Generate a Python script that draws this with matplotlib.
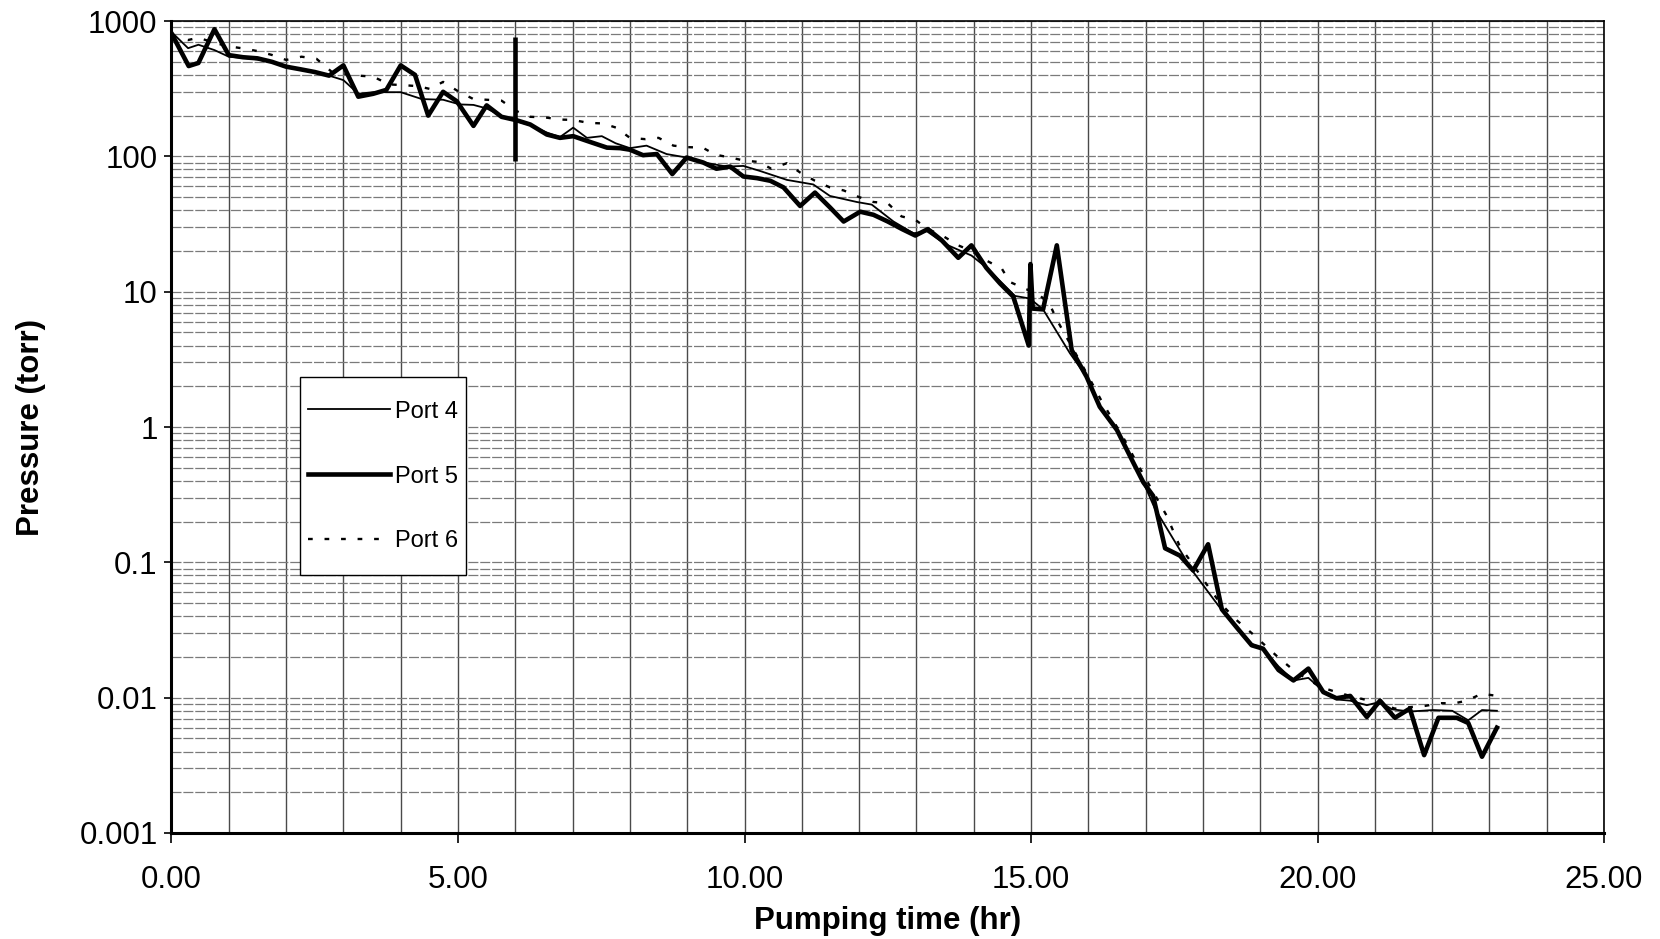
import numpy as np
import matplotlib

matplotlib.use("Agg")

import matplotlib.pyplot as plt
from matplotlib.ticker import FixedLocator, NullFormatter

plt.rcParams["font.family"] = ["Liberation Sans", "DejaVu Sans"]

# Port 4 (thin solid)
t_port4 = [0.0, 0.29, 0.47, 0.75, 1.0, 1.25, 1.5, 1.75, 2.0, 2.25, 2.5, 2.75, 3.0, 3.26, 3.52, 4.0,
           4.37, 4.74, 5.03, 5.27, 5.5, 5.79, 6.02, 6.26, 6.55, 6.78, 7.01, 7.25, 7.51, 7.75, 8.0,
           8.29, 8.64, 8.99, 9.3, 9.69, 9.98, 10.27, 10.74, 11.2, 11.49, 11.96, 12.22, 12.6, 12.95,
           13.18, 13.5, 13.96, 14.23, 14.72, 14.98, 15.21, 15.68, 15.97, 16.2, 16.5, 16.79, 16.96,
           17.16, 17.83, 18.3, 18.59, 18.85, 19.05, 19.32, 19.58, 19.84, 20.1, 20.33, 20.57, 20.86,
           21.09, 21.3, 21.61, 22.02, 22.35, 22.63, 22.87, 23.13]
p_port4 = [830, 630, 668, 610, 545, 535, 520, 495, 460, 440, 420, 395, 366, 290, 298, 298,
           265, 262, 242, 240, 226, 196, 182, 170, 150, 139, 163, 137, 141, 125, 115,
           120, 104, 98, 90, 84, 85, 78, 67, 62, 51, 46, 44, 33, 27,
           28, 22.5, 18.5, 15, 9.3, 8.9, 7.4, 3.5, 2.35, 1.41, 0.95, 0.54, 0.39,
           0.25, 0.085, 0.046, 0.033, 0.025, 0.023, 0.017, 0.0134, 0.014, 0.0112, 0.0097, 0.0095, 0.0088,
           0.0093, 0.0082, 0.0079, 0.0081, 0.008, 0.0068, 0.0081, 0.008]

# Port 5 (thick solid)
t_port5 = [0.0, 0.3, 0.47, 0.75, 1.0, 1.25, 1.5, 1.75, 2.0, 2.25, 2.5, 2.75, 3.0, 3.26, 3.52, 3.75,
           4.0, 4.25, 4.48, 4.74, 4.98, 5.27, 5.5, 5.76, 6.02, 6.26, 6.55, 6.78, 7.01, 7.3, 7.6,
           7.83, 8.0, 8.23, 8.47, 8.74, 8.99, 9.28, 9.51, 9.75, 9.98, 10.22, 10.45, 10.68, 10.97,
           11.23, 11.49, 11.73, 12.02, 12.25, 12.5, 12.75, 12.98, 13.2, 13.44, 13.73, 13.96, 14.22,
           14.46, 14.69, 14.96, 14.99, 15.03, 15.21, 15.45, 15.71, 15.97, 16.2, 16.5, 16.79, 16.96,
           17.13, 17.34, 17.6, 17.83, 18.09, 18.33, 18.59, 18.85, 19.05, 19.32, 19.58, 19.84, 20.1,
           20.33, 20.57, 20.86, 21.09, 21.35, 21.61, 21.86, 22.11, 22.43, 22.63, 22.87, 23.13]
p_port5 = [811, 465, 490, 870, 560, 540, 530, 500, 460, 440, 420, 395, 470, 276, 290, 310,
           470, 400, 200, 300, 255, 168, 238, 196, 185, 172, 145, 137, 141, 128, 116,
           115, 112, 102, 104, 74, 98, 90, 81, 84, 71, 69, 66, 59, 43,
           54, 42, 33, 39, 37, 33, 29, 26, 29, 24, 17.8, 22, 15,
           11.5, 9.2, 4.0, 16.0, 7.5, 7.4, 22, 3.7, 2.35, 1.41, 0.95, 0.54, 0.39,
           0.31, 0.127, 0.112, 0.087, 0.136, 0.045, 0.033, 0.0244, 0.023, 0.016, 0.0134, 0.0164, 0.011,
           0.0099, 0.0103, 0.0072, 0.0095, 0.0071, 0.0083, 0.00376, 0.0071, 0.0071, 0.0065, 0.00366, 0.006]

# Port 6 (dotted)
t_port6 = [0.0, 0.29, 0.47, 0.75, 1.0, 1.22, 1.5, 1.75, 2.0, 2.27, 2.53, 2.8, 3.0, 3.26, 3.52, 3.8,
           4.05, 4.3, 4.51, 4.74, 5.0, 5.27, 5.5, 5.76, 6.02, 6.26, 6.52, 6.78, 7.0, 7.27, 7.53,
           7.76, 8.0, 8.27, 8.5, 8.76, 9.0, 9.27, 9.49, 9.75, 10.0, 10.24, 10.47, 10.74, 10.97,
           11.23, 11.49, 11.73, 12.0, 12.25, 12.5, 12.74, 12.98, 13.2, 13.45, 13.73, 13.96, 14.22,
           14.49, 14.63, 14.9, 15.13, 15.33, 15.45, 15.7, 15.97, 16.23, 16.47, 16.6, 16.85, 17.1,
           17.37, 17.6, 17.8, 18.0, 18.3, 18.6, 18.85, 19.1, 19.34, 19.58, 19.84, 20.1, 20.33,
           20.6, 20.86, 21.1, 21.35, 21.6, 21.88, 22.14, 22.4, 22.6, 22.87, 23.13]
p_port6 = [760, 724, 753, 690, 650, 630, 600, 562, 516, 545, 526, 420, 408, 395, 388, 340,
           336, 330, 315, 355, 303, 265, 262, 258, 216, 196, 194, 187, 186, 177, 175,
           163, 137, 134, 137, 120, 117, 116, 103, 98, 93, 91, 81, 89, 76,
           66, 59, 56, 50, 46, 45, 36, 34, 29, 26, 22, 20, 17,
           14.8, 11.8, 10.5, 9.6, 8.0, 6.2, 4.0, 2.5, 1.56, 1.05, 0.85, 0.54, 0.35,
           0.22, 0.13, 0.1, 0.075, 0.05, 0.037, 0.03, 0.024, 0.0194, 0.016, 0.0135, 0.0118, 0.011,
           0.0102, 0.0096, 0.009, 0.0083, 0.0085, 0.0087, 0.0091, 0.0091, 0.0095, 0.0107, 0.0103]

# thick vertical marker on Port 5 at about 6 hr
bar_t = [6.0]
bar_low = [93]
bar_high = [764]

x_major = [0, 5, 10, 15, 20, 25]
y_major = [0.001, 0.01, 0.1, 1, 10, 100, 1000]
y_labels = ["0.001", "0.01", "0.1", "1", "10", "100", "1000"]

fig = plt.figure(figsize=(16.6, 9.39), dpi=100)
ax = fig.add_axes([0.1033, 0.1129, 0.863, 0.8647])

ax.set_yscale("log")
ax.set_xlim(0, 25)
ax.set_ylim(0.001, 1000)

# grid: every hour vertically, every minor log step horizontally
y_minor = [m * 10.0 ** e for e in range(-3, 3) for m in range(2, 10)]
ax.yaxis.set_major_locator(FixedLocator(y_major))
ax.yaxis.set_minor_locator(FixedLocator(y_minor))
ax.yaxis.set_minor_formatter(NullFormatter())
ax.set_yticklabels(y_labels)
ax.xaxis.set_major_locator(FixedLocator(x_major))
ax.xaxis.set_minor_locator(FixedLocator(list(range(0, 26))))
ax.set_xticklabels([f"{v:.2f}" for v in x_major])

ax.grid(which="both", axis="x", color="#4a4a4a", linewidth=1.0)
ax.grid(which="both", axis="y", color="#7a7a7a", linewidth=0.9, linestyle=(0, (8, 1.5)))
ax.set_axisbelow(True)

ax.tick_params(axis="x", which="major", direction="out", length=7, width=1.2,
               labelsize=22.5, pad=16, color="black")
ax.tick_params(axis="y", which="major", direction="out", length=5, width=1.2,
               labelsize=22.5, pad=5, color="black")
ax.tick_params(which="minor", length=0)

for side in ["top", "right"]:
    ax.spines[side].set_linewidth(1.2)
for side in ["left", "bottom"]:
    ax.spines[side].set_linewidth(2.2)

ax.plot(t_port4, p_port4, color="black", linewidth=1.3, label="Port 4", zorder=4)
ax.plot(t_port5, p_port5, color="black", linewidth=3.3, label="Port 5", zorder=5)
ax.plot(t_port6, p_port6, color="black", linewidth=1.7, linestyle=(0, (2, 5)),
        label="Port 6", zorder=3)
ax.vlines(bar_t, bar_low, bar_high, color="black", linewidth=3.3, zorder=5)

ax.set_xlabel("Pumping time (hr)", fontsize=22.5, fontweight="bold", labelpad=8)
ax.set_ylabel("Pressure (torr)", fontsize=22.5, fontweight="bold", labelpad=24)

leg = ax.legend(loc="upper left", bbox_to_anchor=(0.0897, 0.5616), fontsize=17,
                frameon=True, fancybox=False, framealpha=1.0, edgecolor="black",
                handlelength=3.45, handleheight=2.98, handletextpad=0.22,
                labelspacing=0.56, borderpad=0.35, borderaxespad=0)
leg.get_frame().set_linewidth(1.0)
leg.set_zorder(10)
# tall rows push the handle lines above the text; bring them back to mid-text
for handle in leg.legend_handles:
    handle.set_ydata(np.asarray(handle.get_ydata()) - 5.5)

fig.savefig("out.png", dpi=100, facecolor="white")
